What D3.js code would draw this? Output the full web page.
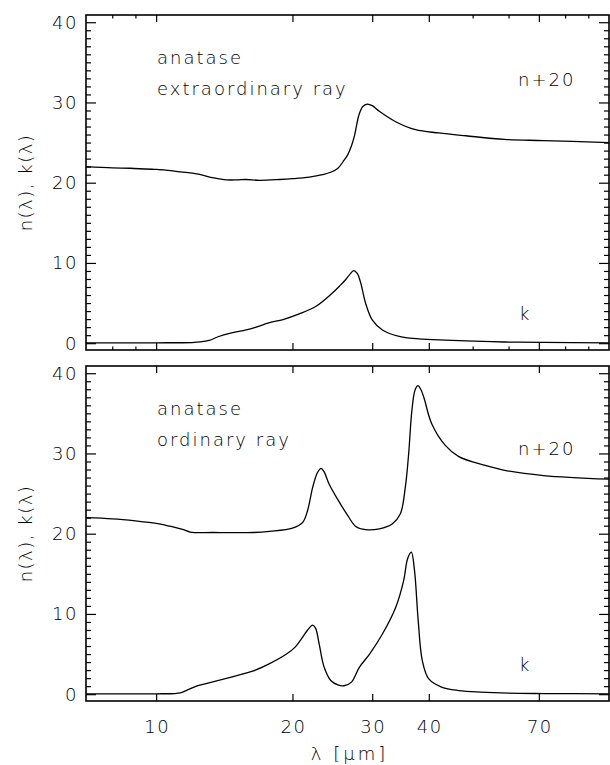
<!DOCTYPE html>
<html>
<head>
<meta charset="utf-8">
<script src="https://cdn.jsdelivr.net/npm/d3@7"></script>
<style>
  html, body { margin: 0; padding: 0; background: #fff; }
  svg { display: block; }
  text { font-family: "DejaVu Sans", sans-serif; font-weight: 200; fill: #000; }
</style>
</head>
<body>
<svg id="chart" width="610" height="765"></svg>
<script>
// ---------- data (wavelength in micron, value) ----------
const extraordinaryN = [
  [7,22.0],[8,21.85],[8.77,21.8],[10,21.65],[10.4,21.6],[11.3,21.35],[12.3,21.1],[13.4,20.6],
  [14.3,20.35],[15.1,20.35],[15.8,20.4],[16.9,20.3],[18.75,20.4],[20,20.5],[21.8,20.7],[23.3,21.0],
  [24.3,21.3],[25.2,21.8],[26.0,22.8],[26.5,23.5],[27.0,24.6],[27.4,25.8],[28.06,28.5],[28.6,29.5],
  [29.25,29.8],[30.0,29.6],[31.1,28.9],[33.8,27.6],[37.4,26.6],[42.1,26.2],[48.3,25.85],[58.8,25.4],
  [71.7,25.25],[100,25.0]
];
const extraordinaryK = [
  [7,0.05],[10,0.05],[12,0.08],[12.5,0.15],[13.1,0.35],[13.7,0.8],[14.6,1.25],[15.8,1.65],[16.5,1.95],
  [17.8,2.55],[19.06,2.95],[20.7,3.65],[22.55,4.6],[24.5,6.25],[25.5,7.2],[26.2,7.9],[26.8,8.6],
  [27.3,9.05],[27.8,8.7],[28.3,7.5],[29.0,5.0],[30.0,2.9],[31.6,1.65],[34.4,0.85],[38.7,0.5],
  [42.1,0.42],[48.3,0.28],[58.8,0.15],[71.7,0.1],[100,0.05]
];
const ordinaryN = [
  [7,22.0],[8,21.85],[9,21.6],[10,21.3],[10.5,21.05],[11.0,20.8],[11.5,20.5],[11.9,20.2],[13.4,20.15],
  [16.4,20.15],[17.8,20.3],[20.0,20.7],[21.06,21.4],[21.6,22.9],[22.17,25.8],[22.7,27.6],[23.13,28.15],
  [23.5,27.7],[24.09,26.2],[25.4,23.9],[26.5,22.25],[27.6,20.9],[29.0,20.5],[31.1,20.6],[33.2,21.2],
  [34.6,22.45],[35.5,25.8],[36.1,29.9],[36.7,35.3],[37.3,37.9],[37.85,38.45],[38.4,38.0],[39.0,37.0],
  [40.6,33.7],[43.5,31.0],[46.6,29.6],[53.3,28.5],[58.8,27.9],[71.7,27.25],[100,26.8]
];
const ordinaryK = [
  [7,0.05],[10,0.05],[11.0,0.08],[11.3,0.15],[11.7,0.5],[12.2,0.95],[13.4,1.55],[14.8,2.2],[16.4,2.9],
  [17.8,3.8],[19.4,5.0],[20.3,5.9],[21.06,7.1],[21.6,8.0],[22.17,8.6],[22.5,8.2],[22.9,6.3],[23.5,3.35],
  [24.3,1.7],[25.2,1.15],[26.0,1.05],[27.0,1.5],[28.1,3.35],[29.6,5.0],[31.6,7.5],[33.8,10.8],
  [35.2,14.15],[35.9,16.85],[36.6,17.7],[37.2,15.4],[37.9,9.2],[38.7,4.2],[40.0,1.9],[42.8,0.86],
  [46.6,0.45],[52,0.25],[60,0.12],[72,0.08],[100,0.05]
];
const xMajorTicks = [10, 20, 30, 40, 70];
const xMinorTicks = [8, 9, 50, 60, 80, 90];
const yMajorTicks = [0, 10, 20, 30, 40];
const yMinorTicks = d3.range(1, 41).filter(v => v % 10 !== 0);
const panels = [
  { title1: "anatase", title2: "extraordinary ray", n: extraordinaryN, k: extraordinaryK, minor: true },
  { title1: "anatase", title2: "ordinary ray", n: ordinaryN, k: ordinaryK, minor: false }
];

// ---------- layout ----------
const svg = d3.select("#chart");
const left = 86, right = 609;
const panelTops = [15, 366];
const panelH = 335;

const x = d3.scaleLog().domain([7, 100]).range([left, right]);

panels.forEach((p, i) => {
  const top = panelTops[i], bottom = top + panelH;
  const y = d3.scaleLinear().domain([-0.85, 40.9]).range([bottom, top]);
  const g = svg.append("g");

  const clipId = "clip" + i;
  svg.append("clipPath").attr("id", clipId)
    .append("rect").attr("x", left).attr("y", top).attr("width", right - left).attr("height", panelH);

  const line = d3.line().x(d => x(d[0])).y(d => y(d[1])).curve(d3.curveCatmullRom.alpha(0.5));
  g.append("path").datum(p.n).attr("d", line).attr("fill", "none").attr("stroke", "#000")
    .attr("stroke-width", 1.3).attr("clip-path", `url(#${clipId})`);
  g.append("path").datum(p.k).attr("d", line).attr("fill", "none").attr("stroke", "#000")
    .attr("stroke-width", 1.3).attr("clip-path", `url(#${clipId})`);

  // frame
  g.append("rect").attr("x", left).attr("y", top).attr("width", right - left).attr("height", panelH)
    .attr("fill", "none").attr("stroke", "#000").attr("stroke-width", 1.6);

  // y ticks (both sides, inward)
  const yl = d3.axisRight(y).tickValues(yMajorTicks).tickSize(10).tickFormat("");
  const ylm = d3.axisRight(y).tickValues(yMinorTicks).tickSize(5).tickFormat("");
  const yr = d3.axisLeft(y).tickValues(yMajorTicks).tickSize(10).tickFormat("");
  const yrm = d3.axisLeft(y).tickValues(yMinorTicks).tickSize(5).tickFormat("");
  [[yl, left], [ylm, left], [yr, right], [yrm, right]].forEach(([ax, pos]) => {
    const a = g.append("g").attr("transform", `translate(${pos},0)`).call(ax);
    a.select(".domain").remove();
    a.selectAll("line").attr("stroke", "#000").attr("stroke-width", 1.2);
  });
  // y tick labels
  g.selectAll(".ylab").data(yMajorTicks).enter().append("text")
    .attr("x", left - 8).attr("y", d => y(d)).attr("dy", "0.36em")
    .attr("text-anchor", "end").attr("font-size", 18).attr("letter-spacing", 1.5)
    .text(d => d);

  // x ticks (top and bottom, inward)
  const xb = d3.axisTop(x).tickValues(xMajorTicks).tickSize(7).tickFormat("");
  const xt = d3.axisBottom(x).tickValues(xMajorTicks).tickSize(7).tickFormat("");
  const axes = [[xb, bottom], [xt, top]];
  if (p.minor) {
    axes.push([d3.axisTop(x).tickValues(xMinorTicks).tickSize(3.5).tickFormat(""), bottom]);
    axes.push([d3.axisBottom(x).tickValues(xMinorTicks).tickSize(3.5).tickFormat(""), top]);
  }
  axes.forEach(([ax, pos]) => {
    const a = g.append("g").attr("transform", `translate(0,${pos})`).call(ax);
    a.select(".domain").remove();
    a.selectAll("line").attr("stroke", "#000").attr("stroke-width", 1.2);
  });

  // y axis title
  g.append("text")
    .attr("transform", `translate(32,${(top + bottom) / 2}) rotate(-90)`)
    .attr("text-anchor", "middle").attr("font-size", 18).attr("letter-spacing", 1.5)
    .text("n(λ), k(λ)");

  // annotations
  g.append("text").attr("x", 157).attr("y", top + 49).attr("font-size", 18).attr("letter-spacing", 2)
    .text(p.title1);
  g.append("text").attr("x", 157).attr("y", top + 80).attr("font-size", 18).attr("letter-spacing", 2)
    .text(p.title2);
  g.append("text").attr("x", 518).attr("y", i === 0 ? top + 71 : top + 89).attr("font-size", 18)
    .attr("letter-spacing", 2).text("n+20");
  g.append("text").attr("x", 519).attr("y", bottom - 30).attr("font-size", 18).text("k");

  if (i === 1) {
    g.selectAll(".xlab").data(xMajorTicks).enter().append("text")
      .attr("x", d => x(d) + 1).attr("y", bottom + 32)
      .attr("text-anchor", "middle").attr("font-size", 18).attr("letter-spacing", 1.5)
      .text(d => d);
    g.append("text").attr("x", (left + right) / 2 + 2).attr("y", bottom + 59)
      .attr("text-anchor", "middle").attr("font-size", 18).attr("letter-spacing", 3)
      .text("λ [μm]");
  }
});
</script>
</body>
</html>
